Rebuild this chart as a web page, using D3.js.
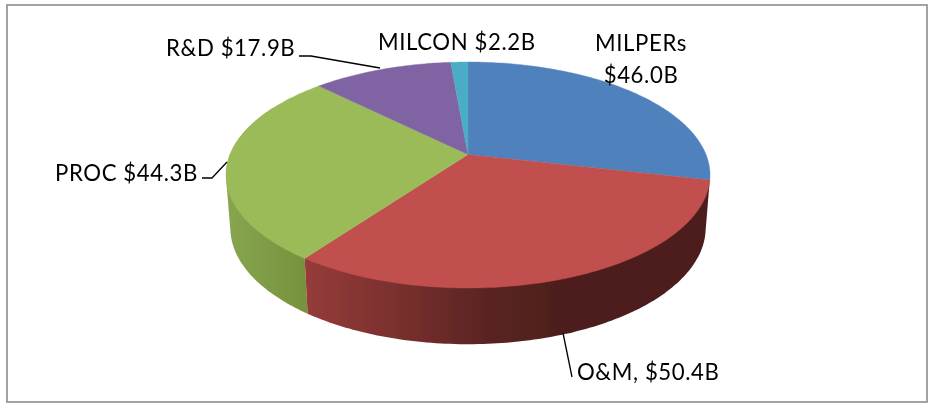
<!DOCTYPE html>
<html><head><meta charset="utf-8">
<script src="https://cdn.jsdelivr.net/npm/d3@7"></script>
<style>html,body{margin:0;padding:0;background:#fff}svg{display:block}text{font-family:Lato,"Open Sans",sans-serif;font-size:22.2px;letter-spacing:0.6px;fill:#000}</style>
</head><body><script>
const categories = ["MILPERs","O&M","PROC","R&D","MILCON"];
const values = [46.0,50.4,44.3,17.9,2.2];
const colors = ["#4f81bd","#c0504d","#9bbb59","#8064a2","#4bacc6"];
const labelLines = [["MILPERs","$46.0B"],["O&M, $50.4B"],["PROC $44.3B"],["R&D $17.9B"],["MILCON $2.2B"]];

const W=928,H=412;
const svg=d3.select("body").append("svg").attr("width",W).attr("height",H);
const defs=svg.append("defs");
defs.append("filter").attr("id","soft").attr("x","-5%").attr("y","-5%").attr("width","110%").attr("height","110%").append("feGaussianBlur").attr("stdDeviation",0.45);
defs.append("filter").attr("id","softText").attr("x","-5%").attr("y","-10%").attr("width","110%").attr("height","120%").append("feGaussianBlur").attr("stdDeviation",0.3);
const cx=468, cy=154.5, R=238, persp=-0.1814, ky=81.25;
// perspective projection of a unit disk point at clockwise angle a from 12 o'clock
const topRim=a=>{const x=Math.sin(a),t=-Math.cos(a),w=1+persp*t;return [cx+R*x/w,(ky*t+cy)/w];};
const botRim=a=>{const p=topRim(a);return [cx+(p[0]-cx)*0.982,p[1]+53+(p[1]-181)*0.03];};
const arcPts=(f,a0,a1)=>{const n=Math.max(2,Math.ceil(Math.abs(a1-a0)*60));return d3.range(n+1).map(i=>f(a0+(a1-a0)*i/n));};
const line=d3.line();
const pie=d3.pie().sort(null).startAngle(0).endAngle(2*Math.PI)(values);

svg.append("rect").attr("x",7).attr("y",5).attr("width",920).attr("height",397).attr("fill","#fff").attr("stroke","#8c8c8c").attr("stroke-width",1.6);

function grad(id,x1,x2,stops){const g=defs.append("linearGradient").attr("id",id).attr("gradientUnits","userSpaceOnUse").attr("x1",x1).attr("x2",x2).attr("y1",0).attr("y2",0);
 stops.forEach(s=>g.append("stop").attr("offset",s[0]).attr("stop-color",s[1]));}
grad("sideRed",305,710,[[0,"#953c3a"],[0.22,"#7b302e"],[0.45,"#5a2422"],[0.62,"#4e1f1d"],[1,"#4e1f1d"]]);
grad("sideGreen",226,306,[[0,"#88a550"],[1,"#76923c"]]);

// sides: green first, then red; the hull closes the silhouette between the two rims
const g=svg.append("g").attr("filter","url(#soft)");
const pg=pie[2], pr=pie[1];
const sidePath=(p,end)=>line(d3.polygonHull([...arcPts(topRim,p.startAngle,end),...arcPts(botRim,p.startAngle,end)]))+"Z";
g.append("path").attr("d",sidePath(pg,pg.endAngle-0.3)).attr("fill","url(#sideGreen)");
g.append("path").attr("d",sidePath(pr,pr.endAngle)).attr("fill","url(#sideRed)");

// top faces
g.selectAll("path.face").data(pie).join("path").attr("class","face")
 .attr("d",d=>line([[cx,cy],...arcPts(topRim,d.startAngle,d.endAngle)])+"Z")
 .attr("fill",(d,i)=>colors[i]).attr("stroke",(d,i)=>colors[i]).attr("stroke-width",0.4);

// leader lines
const leaders=[[[299,56],[311,56],[380,68]],[[202,178],[212,178],[227,162]],[[563,333],[572,377]]];
svg.selectAll("path.leader").data(leaders).join("path").attr("class","leader").attr("d",d=>line(d)).attr("fill","none").attr("stroke","#000").attr("stroke-width",1.3);

// labels
const pos=[[641,51,"middle"],[577,380,"start"],[55,181,"start"],[166,56,"start"],[378,50,"start"]];
const tg=svg.append("g").attr("filter","url(#softText)");
labelLines.forEach((ls,i)=>{ls.forEach((s,j)=>{tg.append("text").attr("x",pos[i][0]).attr("y",pos[i][1]+j*32).attr("text-anchor",pos[i][2]).text(s);});});
</script></body></html>
